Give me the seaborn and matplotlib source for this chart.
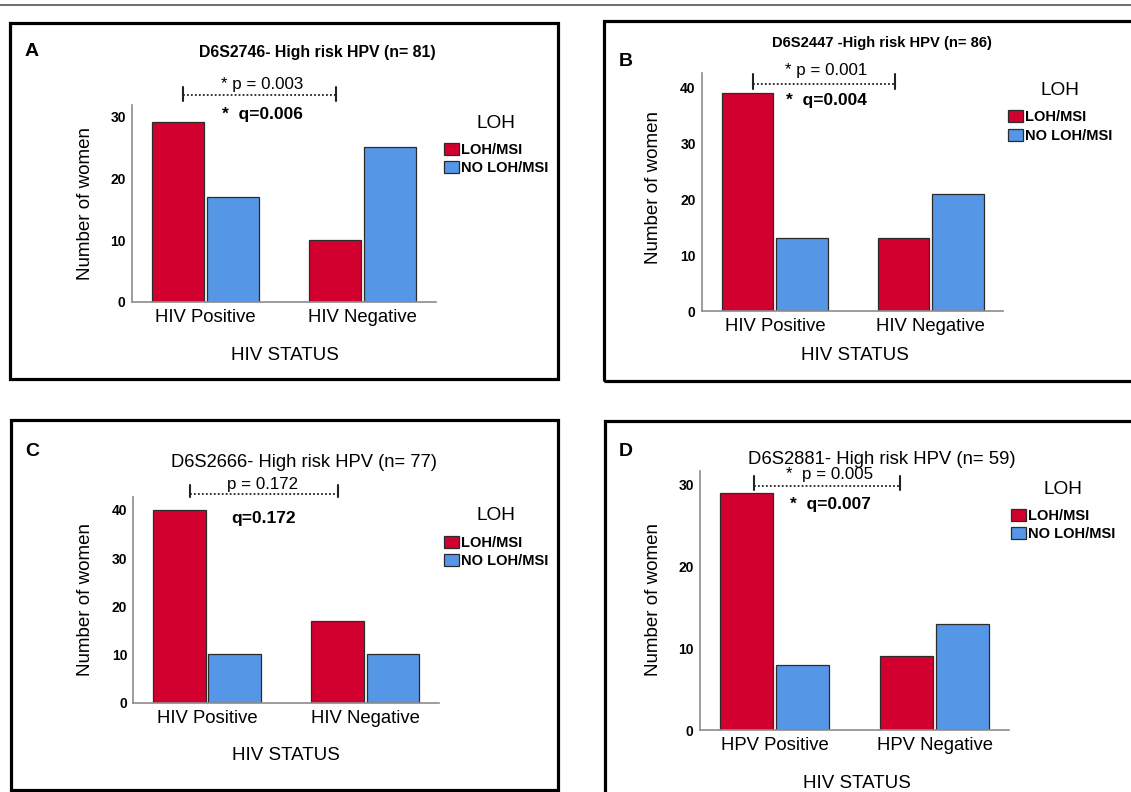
import matplotlib
matplotlib.use("Agg")
import matplotlib.pyplot as plt
from matplotlib.patches import Rectangle, Patch
from matplotlib.lines import Line2D
import seaborn as sns
import pandas as pd

# ---------------- data ----------------
hiv_categories = ["HIV Positive", "HIV Negative"]
hpv_categories = ["HPV Positive", "HPV Negative"]
loh_groups = ["LOH/MSI", "NO LOH/MSI"]

a_loh = [29, 10]
a_noloh = [17, 25]
b_loh = [39, 13]
b_noloh = [13, 21]
c_loh = [40, 17]
c_noloh = [10, 10]
d_loh = [29, 9]
d_noloh = [8, 13]

panel_letters = ["A", "B", "C", "D"]
titles = ["D6S2746- High risk HPV (n= 81)",
          "D6S2447 -High risk HPV (n= 86)",
          "D6S2666- High risk HPV (n= 77)",
          "D6S2881- High risk HPV (n= 59)"]
p_labels = ["* p = 0.003", "* p = 0.001", "p = 0.172", "*  p = 0.005"]
q_labels = ["*  q=0.006", "*  q=0.004", "q=0.172", "*  q=0.007"]
y_ticks_a = [0, 10, 20, 30]
y_ticks_b = [0, 10, 20, 30, 40]
y_ticks_c = [0, 10, 20, 30, 40]
y_ticks_d = [0, 10, 20, 30]
x_title = "HIV STATUS"
y_title = "Number of women"
legend_title = "LOH"

# ---------------- style ----------------
RED = "#D2002F"
BLUE = "#5596E6"
SANS = ["Liberation Sans", "DejaVu Sans"]

sns.set_theme(style="white")
plt.rcParams["font.family"] = SANS
plt.rcParams["text.color"] = "black"
plt.rcParams["axes.labelcolor"] = "black"
plt.rcParams["xtick.color"] = "black"
plt.rcParams["ytick.color"] = "black"

W, H = 1131, 792
fig = plt.figure(figsize=(W / 100, H / 100), dpi=100)


def fx(x):
    return x / W


def fy(y):
    return 1 - y / H


# top separator line
fig.add_artist(Line2D([0, 1], [fy(4.5), fy(4.5)], transform=fig.transFigure,
                      color="#555555", lw=1.2))

datasets = [
    (hiv_categories, a_loh, a_noloh, y_ticks_a),
    (hiv_categories, b_loh, b_noloh, y_ticks_b),
    (hiv_categories, c_loh, c_noloh, y_ticks_c),
    (hpv_categories, d_loh, d_noloh, y_ticks_d),
]

# layout (pixel coordinates from top-left of the image)
layout = [
    dict(border=(10, 23, 558, 379), ax=(132, 105, 436, 302), ytop=31.8, xlim=(-0.47, 1.47),
         letter=(25, 52), title=(317, 52), title_kw=dict(size=11.4, weight="bold"),
         ylab=(85, 204), xlab=(285, 355), leg=(444, 114.5),
         br=(183, 336, 95, 87, 101), p=(262, 84), q=(262, 114)),
    dict(border=(604, 21, 1140, 381), ax=(702, 72.7, 1003, 311.3), ytop=42.6, xlim=(-0.467, 1.463),
         letter=(619, 61), title=(882, 43), title_kw=dict(size=10.6, weight="bold"),
         ylab=(654, 187), xlab=(855, 356), leg=(1008, 82),
         br=(753, 895, 84, 74, 89), p=(826, 70), q=(826, 101)),
    dict(border=(11, 420, 558, 790), ax=(133.4, 497.3, 439, 702.7), ytop=42.6, xlim=(-0.466, 1.466),
         letter=(25, 452), title=(304, 462), title_kw=dict(size=13.2),
         ylab=(86, 600), xlab=(286, 756), leg=(444, 507.5),
         br=(190, 338, 494, 485, 497), p=(263, 484), q=(264, 518)),
    dict(border=(605, 421, 1140, 800), ax=(700, 470.7, 1009, 730), ytop=31.7, xlim=(-0.467, 1.465),
         letter=(619, 451), title=(882, 459), title_kw=dict(size=13.3),
         ylab=(653, 599), xlab=(857, 783), leg=(1011, 480.5),
         br=(754, 900, 486, 476, 490), p=(830, 475), q=(830, 505)),
]

for i, ((cats, loh, noloh, yt), L) in enumerate(zip(datasets, layout)):
    df = pd.DataFrame({
        "status": cats * 2,
        "count": loh + noloh,
        "loh": [loh_groups[0]] * len(cats) + [loh_groups[1]] * len(cats),
    })

    # panel border
    x0, y0, x1, y1 = L["border"]
    fig.add_artist(Rectangle((fx(x0), fy(y1)), (x1 - x0) / W, (y1 - y0) / H,
                             transform=fig.transFigure, fill=False,
                             edgecolor="black", lw=2.3))

    ax0, ay0, ax1, ay1 = L["ax"]
    ax = fig.add_axes([fx(ax0), fy(ay1), (ax1 - ax0) / W, (ay1 - ay0) / H])
    sns.barplot(data=df, x="status", y="count", hue="loh", order=cats,
                hue_order=loh_groups, palette=[RED, BLUE], width=0.7, gap=0.05,
                edgecolor="#2b2b2b", linewidth=0.9, saturation=1, legend=False, ax=ax)
    ax.set_xlim(*L["xlim"])
    ax.set_ylim(0, L["ytop"])
    ax.set_yticks(yt)
    ax.set_yticklabels([str(v) for v in yt], weight="bold", size=10)
    ax.set_xticks(range(len(cats)))
    ax.set_xticklabels(cats, size=13.3)
    ax.tick_params(axis="both", length=0, colors="black")
    ax.tick_params(axis="x", pad=5)
    ax.tick_params(axis="y", pad=4.5)
    ax.set_xlabel("")
    ax.set_ylabel("")
    ax.set_facecolor("none")
    for s in ["top", "right"]:
        ax.spines[s].set_visible(False)
    for s in ["left", "bottom"]:
        ax.spines[s].set_color("#8c8c8c")
        ax.spines[s].set_linewidth(1.2)

    # texts
    lx, ly = L["letter"]
    fig.text(fx(lx), fy(ly), panel_letters[i], ha="left", va="center",
             size=14, weight="bold")
    tx, ty = L["title"]
    fig.text(fx(tx), fy(ty), titles[i], ha="center", va="center", **L["title_kw"])
    yx, yy = L["ylab"]
    fig.text(fx(yx), fy(yy), y_title, rotation=90, ha="center", va="center", size=13.5)
    xx, xy = L["xlab"]
    fig.text(fx(xx), fy(xy), x_title, ha="center", va="center", size=13.5)

    # legend
    handles = [Patch(facecolor=RED, edgecolor="#2b2b2b", lw=0.9),
               Patch(facecolor=BLUE, edgecolor="#2b2b2b", lw=0.9)]
    lgx, lgy = L["leg"]
    leg = ax.legend(handles, loh_groups, title=legend_title, loc="upper left",
                    bbox_to_anchor=(fx(lgx), fy(lgy)), bbox_transform=fig.transFigure,
                    frameon=False, borderpad=0, borderaxespad=0,
                    handlelength=1.0, handleheight=0.9, handletextpad=0.15,
                    labelspacing=0.3,
                    prop=dict(weight="bold", size=10.5),
                    title_fontproperties=dict(size=13.7))
    leg._legend_box.sep = 8

    # significance bracket
    bx0, bx1, by, bt0, bt1 = L["br"]
    fig.add_artist(Line2D([fx(bx0), fx(bx1)], [fy(by), fy(by)], transform=fig.transFigure,
                          color="#222222", lw=1.3, linestyle=(0, (1, 1.2))))
    for bx in (bx0, bx1):
        fig.add_artist(Line2D([fx(bx), fx(bx)], [fy(bt0), fy(bt1)], transform=fig.transFigure,
                              color="#222222", lw=1.5))
    px, py = L["p"]
    fig.text(fx(px), fy(py), p_labels[i], ha="center", va="center", size=12.2)
    qx, qy = L["q"]
    fig.text(fx(qx), fy(qy), q_labels[i], ha="center", va="center", size=12.5,
             weight="bold")

fig.savefig("out.png", dpi=100)
